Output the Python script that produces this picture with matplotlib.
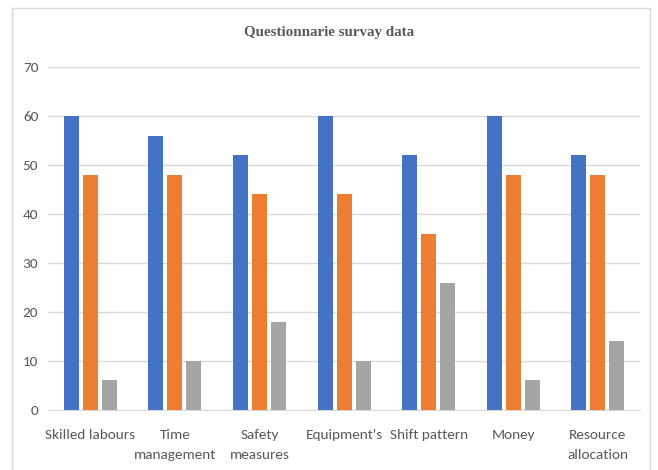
import numpy as np
import matplotlib.pyplot as plt
from matplotlib.patches import Rectangle

categories = ['Skilled labours', 'Time\nmanagement', 'Safety\nmeasures', "Equipment's",
              'Shift pattern', 'Money', 'Resource\nallocation']
series1 = [60, 56, 52, 60, 52, 60, 52]
series2 = [48, 48, 44, 44, 36, 48, 48]
series3 = [6, 10, 18, 10, 26, 6, 14]

colors = ['#4472C4', '#ED7D31', '#A5A5A5']
label_font = ['Carlito', 'Fira Sans Condensed', 'PT Sans Narrow', 'DejaVu Sans']

fig = plt.figure(figsize=(6.58, 4.70), dpi=100)
ax = fig.add_axes([0.073, 0.128, 0.9, 0.729])

x = np.arange(len(categories))
w = 0.177
step = 0.225
for i, (vals, c) in enumerate(zip([series1, series2, series3], colors)):
    ax.bar(x + (i - 1) * step, vals, width=w, color=c, zorder=3)

ax.set_xlim(-0.5, len(categories) - 0.5)
ax.set_ylim(0, 70)
ax.set_yticks(range(0, 71, 10))
ax.yaxis.grid(True, color='#D9D9D9', linewidth=1, zorder=0)
for s in ['top', 'right', 'left']:
    ax.spines[s].set_visible(False)
ax.spines['bottom'].set_color('#D9D9D9')
ax.tick_params(axis='both', length=0, colors='#595959', labelsize=11)
ax.tick_params(axis='x', pad=14)
ax.tick_params(axis='y', pad=7)
ax.set_xticks(x)
ax.set_xticklabels(categories, family=label_font, linespacing=1.8)
for t in ax.get_yticklabels():
    t.set_family(label_font)

fig.text(0.5, 0.93, 'Questionnarie survay data', ha='center', va='center',
         family=['Liberation Serif', 'DejaVu Serif'], fontweight='bold',
         fontsize=10.8, color='#595959')

fig.patches.append(Rectangle((12 / 658, -0.01), 638 / 658, 1 - 8 / 470 + 0.01,
                             transform=fig.transFigure, fill=False,
                             edgecolor='#D9D9D9', linewidth=1))

fig.savefig('out.png', dpi=100)
